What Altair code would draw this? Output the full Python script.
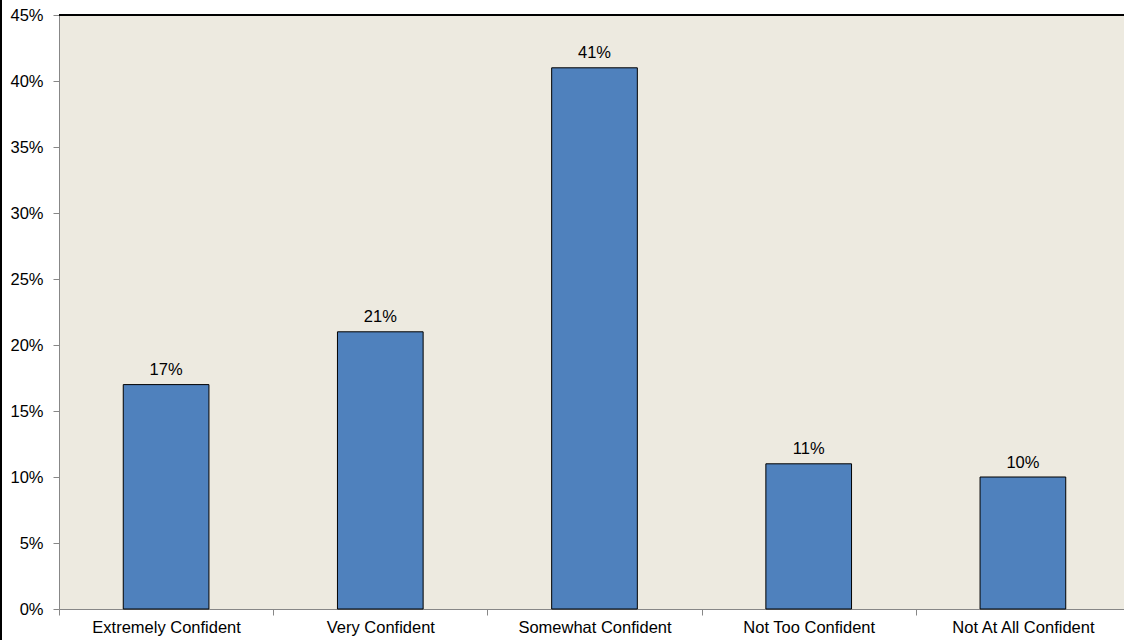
import altair as alt
import pandas as pd

categories = ["Extremely Confident", "Very Confident", "Somewhat Confident",
              "Not Too Confident", "Not At All Confident"]
shares = [0.17, 0.21, 0.41, 0.11, 0.10]

df = pd.DataFrame({"category": categories, "share": shares})

W, H = 1065, 594
FONT = "Liberation Sans"
FS = 16.5

x_enc = alt.X("category:N", sort=categories, title=None,
              scale=alt.Scale(paddingInner=0, paddingOuter=0, range=[0, 1071]),
              axis=alt.Axis(labelAngle=0, tickBand="extent", tickSize=6,
                            labelPadding=4, labelFontSize=FS,
                            labelFont=FONT, labelColor="black",
                            domainColor="#878787", tickColor="#878787"))
y_enc = alt.Y("share:Q", title=None,
              scale=alt.Scale(domain=[0, 0.45], nice=False),
              axis=alt.Axis(format=".0%", values=[i / 100 for i in range(0, 46, 5)],
                            grid=False, tickSize=6, labelPadding=10,
                            labelFontSize=FS, labelFont=FONT,
                            labelColor="black", domainColor="#878787",
                            tickColor="#878787"))

bars = alt.Chart(df).mark_bar(
    width=alt.RelativeBandSize(0.4), color="#4F81BD",
    stroke="black", strokeWidth=1
).encode(x=x_enc, y=y_enc)

labels = alt.Chart(df).mark_text(
    font=FONT, fontSize=FS, color="black",
    baseline="alphabetic", dy=-9.5
).encode(
    x=alt.X("category:N", sort=categories),
    y="share:Q",
    text=alt.Text("share:Q", format=".0%"),
)

# black frame line along the top of the plot area
top_line = alt.Chart(df).mark_rule(color="black", strokeWidth=1.5).encode(
    x=alt.value(0), x2=alt.value(W), y=alt.value(0)
)
# black border along the chart's left edge
left_line = alt.Chart(df).mark_rule(color="black", strokeWidth=1.5, clip=False).encode(
    x=alt.value(-58), y=alt.value(-15), y2=alt.value(625)
)

chart = alt.layer(bars, labels, top_line, left_line).properties(
    width=W, height=H,
    autosize=alt.AutoSizeParams(type="none"),
    padding={"left": 59, "top": 15, "right": 0, "bottom": 31},
    background="white",
).configure_view(fill="#EDEAE0", stroke=None)

chart.save("out.html", embed_options={"renderer": "svg", "actions": False})
